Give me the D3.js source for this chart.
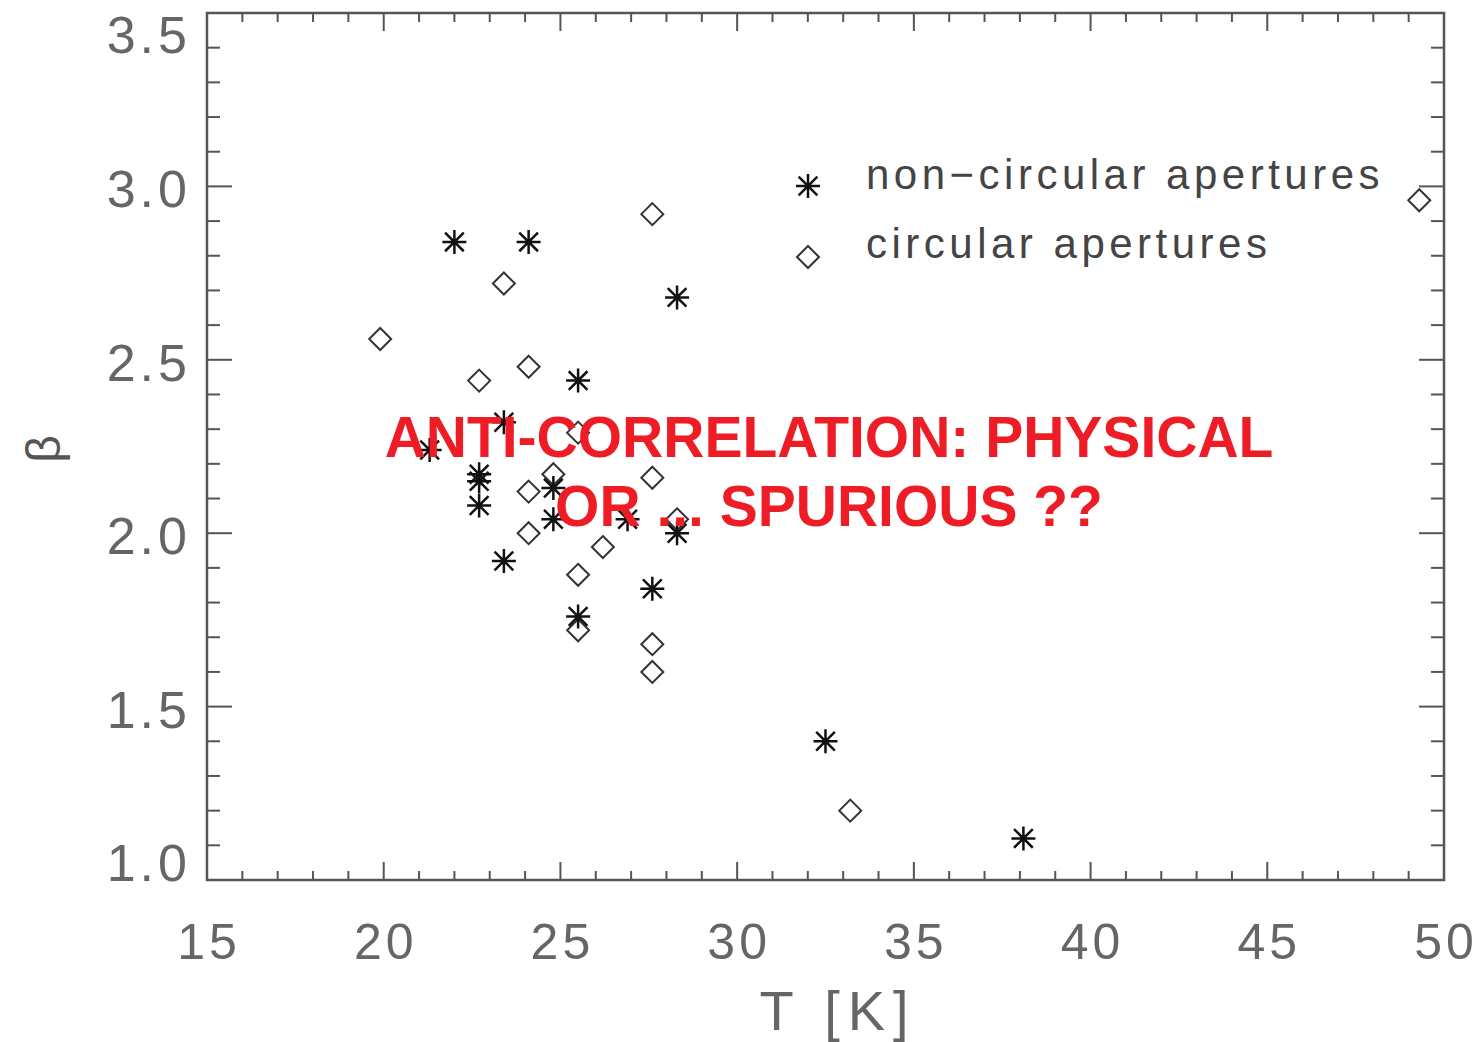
<!DOCTYPE html>
<html><head><meta charset="utf-8">
<script src="https://cdn.jsdelivr.net/npm/d3@7"></script>
<style>
html,body{margin:0;padding:0;background:#fff;}
</style></head>
<body>
<svg id="c" width="1482" height="1042"></svg>
<script>
// Non-circular apertures (asterisks): temperature T [K], beta
const nonCircT    = [22.0, 24.1, 28.3, 25.5, 23.4, 21.3, 22.7, 22.7, 22.7, 24.8, 24.8, 26.9, 28.3, 23.4, 27.6, 25.5, 32.5, 38.1];
const nonCircBeta = [2.84, 2.84, 2.68, 2.44, 2.32, 2.24, 2.17, 2.15, 2.08, 2.13, 2.04, 2.04, 2.00, 1.92, 1.84, 1.76, 1.40, 1.12];
// Circular apertures (diamonds)
const circT    = [27.6, 23.4, 19.9, 22.7, 24.1, 25.5, 24.8, 24.1, 27.6, 24.1, 28.3, 26.2, 25.5, 25.5, 27.6, 27.6, 33.2, 49.3];
const circBeta = [2.92, 2.72, 2.56, 2.44, 2.48, 2.29, 2.17, 2.12, 2.16, 2.00, 2.04, 1.96, 1.88, 1.72, 1.68, 1.60, 1.20, 2.96];

const xTicks = [15, 20, 25, 30, 35, 40, 45, 50];
const yTicks = [1.0, 1.5, 2.0, 2.5, 3.0, 3.5];
const legendLabels = ["non\u2212circular apertures", "circular apertures"];
const xLabel = "T [K]";
const yLabel = "\u03b2";
const annotation = ["ANTI-CORRELATION: PHYSICAL", "OR ... SPURIOUS ??"];

const FONT = "'Liberation Sans', Arial, sans-serif";
const svg = d3.select("#c");
const L = 207, R = 1444, T = 13, B = 880;
const x = d3.scaleLinear().domain([15, 50]).range([L, R]);
const y = d3.scaleLinear().domain([1.0, 3.5]).range([B, T]);
const axisCol = "#555";

// frame
svg.append("rect").attr("x", L).attr("y", T).attr("width", R - L).attr("height", B - T)
  .attr("fill", "none").attr("stroke", axisCol).attr("stroke-width", 2.5);

const xMinor = d3.range(15, 50.01, 1);
const yMinor = d3.range(10, 35.01, 1).map(d => d / 10);
const g = svg.append("g").attr("stroke", axisCol).attr("stroke-width", 2);
xMinor.forEach(v => {
  const major = Math.abs(v % 5) < 1e-6;
  const len = major ? 18 : 9;
  g.append("line").attr("x1", x(v)).attr("x2", x(v)).attr("y1", B).attr("y2", B - len);
  g.append("line").attr("x1", x(v)).attr("x2", x(v)).attr("y1", T).attr("y2", T + len);
});
yMinor.forEach(v => {
  const major = Math.abs((v * 10) % 5) < 1e-6;
  const len = major ? 25 : 13;
  g.append("line").attr("y1", y(v)).attr("y2", y(v)).attr("x1", L).attr("x2", L + len);
  g.append("line").attr("y1", y(v)).attr("y2", y(v)).attr("x1", R).attr("x2", R - len);
});

svg.append("g").selectAll("text").data(xTicks).join("text")
  .attr("x", d => x(d) + 2).attr("y", 959).attr("text-anchor", "middle")
  .attr("fill", "#666").attr("font-size", 50).attr("font-family", FONT).attr("letter-spacing", 4)
  .text(d => d);
svg.append("g").selectAll("text").data(yTicks).join("text")
  .attr("x", 191).attr("y", d => Math.min(Math.max(y(d) + 21, 53), 881)).attr("text-anchor", "end")
  .attr("fill", "#666").attr("font-size", 52).attr("font-family", FONT).attr("letter-spacing", 4)
  .text(d => d.toFixed(1));

svg.append("text").attr("x", 838).attr("y", 1030).attr("text-anchor", "middle")
  .attr("fill", "#666").attr("font-size", 56).attr("font-family", FONT)
  .attr("letter-spacing", 8).text(xLabel);
svg.append("text").attr("transform", "translate(60,449) rotate(-90)").attr("text-anchor", "middle")
  .attr("fill", "#555").attr("font-size", 48).attr("font-family", FONT)
  .text(yLabel);

// markers
const r = 12, rd = 11;
const astPath = `M${-r},0L${r},0M0,${-r}L0,${r}M${-r*0.78},${-r*0.78}L${r*0.78},${r*0.78}M${-r*0.78},${r*0.78}L${r*0.78},${-r*0.78}`;
const diaPath = `M0,${-rd}L${rd},0L0,${rd}L${-rd},0Z`;

const nonCirc = nonCircT.map((t, i) => ({t, b: nonCircBeta[i]}));
const circ = circT.map((t, i) => ({t, b: circBeta[i]}));

svg.append("g").selectAll("path").data(circ).join("path")
  .attr("transform", d => `translate(${x(d.t)},${y(d.b)})`)
  .attr("d", diaPath).attr("fill", "none").attr("stroke", "#333").attr("stroke-width", 2);
svg.append("g").selectAll("path").data(nonCirc).join("path")
  .attr("transform", d => `translate(${x(d.t)},${y(d.b)})`)
  .attr("d", astPath).attr("fill", "none").attr("stroke", "#111").attr("stroke-width", 2.5);

// legend
const lg = svg.append("g");
lg.append("path").attr("transform", "translate(808,186)").attr("d", astPath)
  .attr("fill", "none").attr("stroke", "#111").attr("stroke-width", 2.5);
lg.append("path").attr("transform", "translate(808,257)").attr("d", diaPath)
  .attr("fill", "none").attr("stroke", "#333").attr("stroke-width", 2);
lg.selectAll("text").data(legendLabels).join("text")
  .attr("x", 866).attr("y", (d, i) => 189 + i * 69)
  .attr("fill", "#444").attr("font-size", 42).attr("font-family", FONT)
  .attr("letter-spacing", 4.5).text(d => d);

// annotation
svg.append("g").selectAll("text").data(annotation).join("text")
  .attr("x", 829).attr("y", (d, i) => 457 + i * 69).attr("text-anchor", "middle")
  .attr("fill", "#ee1c25").attr("font-size", 57).attr("font-weight", "bold")
  .attr("font-family", FONT).text(d => d);
</script>
</body></html>
